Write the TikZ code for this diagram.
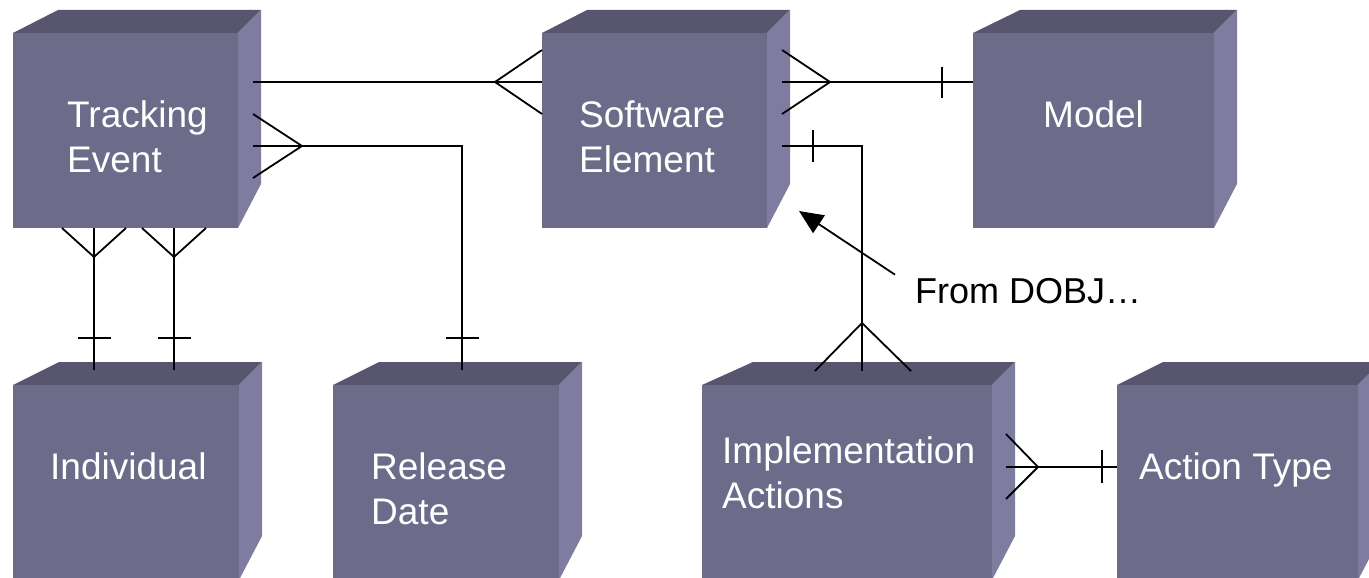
\documentclass[tikz,border=0pt]{standalone}
\usepackage{fontspec}
\setmainfont{Liberation Sans}
\usetikzlibrary{arrows.meta,calc}

\definecolor{cubefront}{RGB}{108,107,137}
\definecolor{cubetop}{RGB}{87,86,110}
\definecolor{cubeside}{RGB}{126,125,159}

\tikzset{
  frontface/.style={rectangle, fill=cubefront, inner sep=0pt, outer sep=0pt},
  topface/.style={fill=cubetop},
  sideface/.style={fill=cubeside},
  % multi-line names are placed by the baseline of their last line
  boxlabel/.style={text=white, anchor=base west, align=left, inner sep=0pt,
                   font=\fontsize{37}{44.5}\selectfont},
  note/.style={text=black, anchor=base west, inner sep=0pt,
               font=\fontsize{36}{44.5}\selectfont},
  rel/.style={draw=black, line width=1.8pt},
  pointer/.style={rel, -{Triangle[length=24pt,width=21pt]}},
}

% \entitybox{name}{left x}{right x}{front top y}{bottom y}{slant of top-left edge}
\newcommand\entitybox[6]{%
  \fill[topface] (#2,#4) -- (#2+#6,#4-23) -- (#3+23,#4-23) -- (#3,#4) -- cycle;
  \fill[sideface] (#3,#4) -- (#3+23,#4-23) -- (#3+23,#5-44) -- (#3,#5) -- cycle;
  \node[frontface, anchor=north west, minimum width={#3-#2}, minimum height={#5-#4}]
    (#1) at (#2,#4) {};
}

\begin{document}
\begin{tikzpicture}[x=1pt,y=-1pt]
\useasboundingbox (0,0) rectangle (1369,578);

% entity cubes
\entitybox{te}{13}{238}{33}{228}{45}
\entitybox{se}{542}{767}{33}{228}{45}
\entitybox{mo}{973}{1214}{33}{228}{47}
\entitybox{in}{13}{239}{385}{580}{46}
\entitybox{rd}{333}{559}{385}{580}{46}
\entitybox{ia}{702}{992}{385}{580}{51}
\entitybox{at}{1117}{1358}{385}{580}{46}

% entity names
\node[boxlabel] (te-name) at (67,172) {Tracking\\Event};
\node[boxlabel] (se-name) at (579,172) {Software\\Element};
\node[boxlabel] (mo-name) at (1043,128) {Model};
\node[boxlabel] (in-name) at (50,479) {Individual};
\node[boxlabel] (rd-name) at (371,524) {Release\\Date};
\node[boxlabel] (ia-name) at (722,508) {Implementation\\Actions};
\node[boxlabel] (at-name) at (1139,479) {Action Type};
\node[note] (dobj) at (915,303) {From DOBJ…};

% Tracking Event -- Software Element (many at Software Element)
\draw[rel] ($(te.north east)+(15,49)$) -- ($(se.north west)+(0,49)$);
\draw[rel] ($(se.north west)+(0,17)$) -- ($(se.north west)+(-47,49)$) -- ($(se.north west)+(0,81)$);

% Tracking Event -- Release Date (many at Tracking Event)
\draw[rel] ($(te.north east)+(15,113)$) -| ($(rd.north west)+(129,-15)$);
\draw[rel] ($(te.north east)+(15,81)$) -- ($(te.north east)+(64,113)$) -- ($(te.north east)+(15,145)$);
\draw[rel] ($(rd.north west)+(113,-47)$) -- ++(33,0);

% Tracking Event -- Individual (two relationships)
\draw[rel] ($(te.south west)+(81,0)$) -- ($(in.north west)+(81,-15)$);
\draw[rel] ($(te.south west)+(49,0)$) -- ($(te.south west)+(81,29)$) -- ($(te.south west)+(113,0)$);
\draw[rel] ($(in.north west)+(65,-47)$) -- ++(33,0);
\draw[rel] ($(te.south west)+(161,0)$) -- ($(in.north west)+(161,-15)$);
\draw[rel] ($(te.south west)+(129,0)$) -- ($(te.south west)+(161,29)$) -- ($(te.south west)+(193,0)$);
\draw[rel] ($(in.north west)+(145,-47)$) -- ++(33,0);

% Software Element -- Model (many at Software Element)
\draw[rel] ($(se.north east)+(15,49)$) -- ($(mo.north west)+(0,49)$);
\draw[rel] ($(se.north east)+(15,17)$) -- ($(se.north east)+(63,49)$) -- ($(se.north east)+(15,81)$);
\draw[rel] ($(mo.north west)+(-31,34)$) -- ++(0,31);

% Software Element -- Implementation Actions (many at Implementation Actions)
\draw[rel] ($(se.north east)+(15,113)$) -| ($(ia.north west)+(160,-14)$);
\draw[rel] ($(se.north east)+(46,97)$) -- ++(0,32);
\draw[rel] ($(ia.north west)+(113,-14)$) -- ($(ia.north west)+(160,-62)$) -- ($(ia.north west)+(209,-14)$);

% Implementation Actions -- Action Type (many at Implementation Actions)
\draw[rel] ($(ia.north east)+(14,82)$) -- ($(at.north west)+(0,82)$);
\draw[rel] ($(ia.north east)+(14,49)$) -- ($(ia.north east)+(46,82)$) -- ($(ia.north east)+(14,114)$);
\draw[rel] ($(at.north west)+(-15,65)$) -- ++(0,33);

% note pointing at Software Element
\draw[pointer] ($(dobj.north west)+(-20,-3)$) -- ($(se.south east)+(32,-17)$);

\end{tikzpicture}
\end{document}
